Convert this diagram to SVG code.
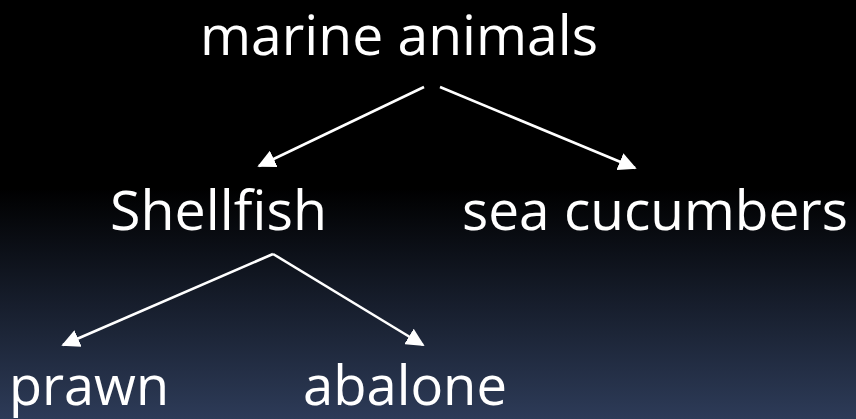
<svg xmlns="http://www.w3.org/2000/svg" width="856" height="419" viewBox="0 0 856 419">
<defs>
<linearGradient id="bg" x1="0" y1="0" x2="0" y2="419" gradientUnits="userSpaceOnUse">
<stop offset="0" stop-color="#000000"/>
<stop offset="0.45" stop-color="#000000"/>
<stop offset="1" stop-color="#2d3b58"/>
</linearGradient>
<marker id="ah" viewBox="0 0 10 10" refX="9" refY="5" markerWidth="7" markerHeight="7" markerUnits="strokeWidth" orient="auto">
<path d="M0,0 L10,5 L0,10 z" fill="#ffffff"/>
</marker>
<style>
.lbl{font-family:"Open Sans","Noto Sans",sans-serif;font-size:54px;fill:#ffffff;}
.edge{stroke:#ffffff;stroke-width:2.6;fill:none;marker-end:url(#ah);}
</style>
</defs>
<rect x="0" y="0" width="856" height="419" fill="url(#bg)"/>
<g id="connectors">
<line class="edge" x1="424" y1="87" x2="259" y2="166"/>
<line class="edge" x1="440" y1="87" x2="635" y2="168"/>
<line class="edge" x1="273" y1="254" x2="63" y2="345"/>
<line class="edge" x1="273" y1="254" x2="423" y2="345"/>
</g>
<g id="marine-animals"><text class="lbl" x="200" y="55" textLength="398" lengthAdjust="spacingAndGlyphs">marine animals</text></g>
<g id="shellfish"><text class="lbl" x="110" y="230" textLength="217" lengthAdjust="spacingAndGlyphs">Shellfish</text></g>
<g id="sea-cucumbers"><text class="lbl" x="462" y="230" textLength="386" lengthAdjust="spacingAndGlyphs">sea cucumbers</text></g>
<g id="prawn"><text class="lbl" x="9" y="405" textLength="160" lengthAdjust="spacingAndGlyphs">prawn</text></g>
<g id="abalone"><text class="lbl" x="303" y="405" textLength="204" lengthAdjust="spacingAndGlyphs">abalone</text></g>
</svg>
